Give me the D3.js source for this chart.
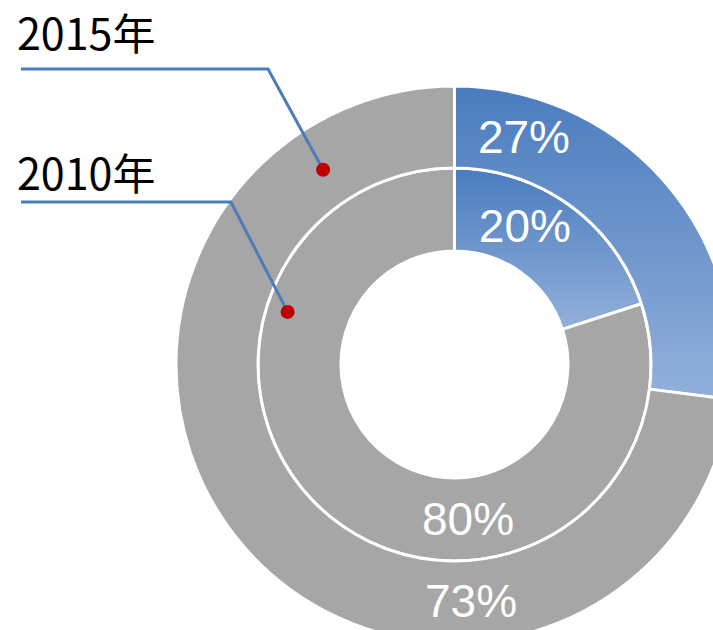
<!DOCTYPE html>
<html>
<head>
<meta charset="utf-8">
<script src="https://cdn.jsdelivr.net/npm/d3@7"></script>
<style>
  html, body { margin: 0; padding: 0; background: #fff; }
  svg { display: block; }
</style>
</head>
<body>
<svg id="chart" width="713" height="630"></svg>
<script>
// Share of the two categories in each year (percent)
const years = ["2010年", "2015年"];
const categories = ["highlight", "rest"];
const values2010 = [20, 80];
const values2015 = [27, 73];
const valueLabels2010 = ["20%", "80%"];
const valueLabels2015 = ["27%", "73%"];

const width = 713, height = 630;
const cx = 454.5, cy = 364.5;
const rHole = 113.5, rMid = 196.5, rOuter = 278.5;

const svg = d3.select("#chart");

// Vertical blue gradient for the highlighted slices
const defs = svg.append("defs");
const grad = defs.append("linearGradient")
  .attr("id", "blueGrad")
  .attr("x1", 0).attr("y1", 0).attr("x2", 0).attr("y2", 1);
grad.append("stop").attr("offset", "0%").attr("stop-color", "#4a7cbe");
grad.append("stop").attr("offset", "100%").attr("stop-color", "#93b0db");

const color = d3.scaleOrdinal()
  .domain(categories)
  .range(["url(#blueGrad)", "#a6a6a6"]);

const pie = d3.pie().sort(null).value(d => d.value);

const rings = [
  { year: years[0], values: values2010, labels: valueLabels2010, r0: rHole, r1: rMid },
  { year: years[1], values: values2015, labels: valueLabels2015, r0: rMid, r1: rOuter }
];

const g = svg.append("g").attr("transform", `translate(${cx},${cy})`);

rings.forEach(ring => {
  const data = pie(ring.values.map((v, i) => ({ value: v, cat: categories[i], label: ring.labels[i] })));
  const arc = d3.arc().innerRadius(ring.r0).outerRadius(ring.r1);
  const rg = g.append("g");
  rg.selectAll("path")
    .data(data)
    .join("path")
    .attr("d", arc)
    .attr("fill", d => color(d.data.cat))
    .attr("stroke", "#ffffff")
    .attr("stroke-width", 3)
    .attr("stroke-linejoin", "round");
  ring.pieData = data;
});

// Value labels sit on the mid radius of each ring, just right of twelve / six o'clock
const labelAngles = [[27, 175], [17, 176]];
rings.forEach((ring, ri) => {
  const rm = (ring.r0 + ring.r1) / 2;
  ring.pieData.forEach((d, i) => {
    const a = labelAngles[ri][i] * Math.PI / 180;
    g.append("text")
      .attr("x", rm * Math.sin(a))
      .attr("y", -rm * Math.cos(a))
      .attr("text-anchor", "middle")
      .attr("dominant-baseline", "central")
      .attr("font-family", "'Liberation Sans', Arial, sans-serif")
      .attr("font-size", 46)
      .attr("fill", "#ffffff")
      .text(d.data.label);
  });
});

// Year callouts: text, blue leader line with an elbow, red dot on the ring
const callouts = [
  { year: years[1], textY: 50, lineY: 69, elbowX: 268, dotAngle: -34, dotR: 235 },
  { year: years[0], textY: 190, lineY: 202, elbowX: 231, dotAngle: -72.5, dotR: 175 }
];

callouts.forEach(c => {
  const a = c.dotAngle * Math.PI / 180;
  const dx = cx + c.dotR * Math.sin(a);
  const dy = cy - c.dotR * Math.cos(a);
  svg.append("path")
    .attr("d", d3.line()([[21, c.lineY], [c.elbowX, c.lineY], [dx, dy]]))
    .attr("fill", "none")
    .attr("stroke", "#4a7ebb")
    .attr("stroke-width", 3);
  svg.append("circle")
    .attr("cx", dx).attr("cy", dy).attr("r", 7)
    .attr("fill", "#c00000");
  svg.append("text")
    .attr("x", 17)
    .attr("y", c.textY)
    .attr("font-family", "'Noto Sans CJK SC', sans-serif")
    .attr("font-size", 43)
    .attr("fill", "#000000")
    .text(c.year);
});
</script>
</body>
</html>
